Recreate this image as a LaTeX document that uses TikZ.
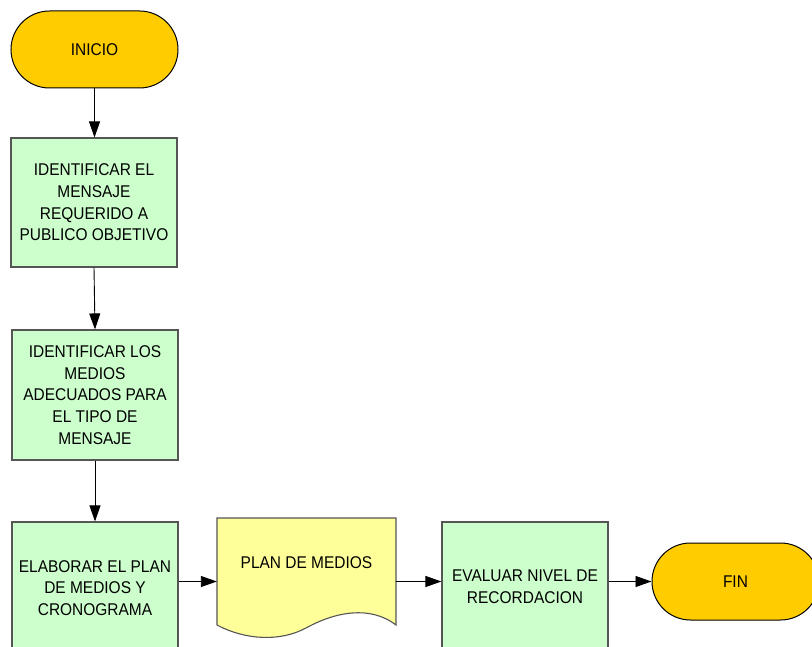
\documentclass[tikz,border=0pt]{standalone}
\usepackage{fontspec}
\setmainfont[FakeStretch=0.91]{Liberation Sans}
\usetikzlibrary{arrows.meta}
\definecolor{boxgreen}{HTML}{CCFFCC}
\definecolor{termyellow}{HTML}{FFCC00}
\definecolor{docyellow}{HTML}{FFFF99}
\definecolor{boxline}{HTML}{555555}
\tikzset{
  txt/.style={font=\fontsize{17}{21.7}\selectfont, align=center, inner sep=0pt},
  procbox/.style={txt, draw=boxline, fill=boxgreen, line width=1.1pt, minimum width=166pt},
  term/.style={txt, draw=black, fill=termyellow, line width=1pt, minimum width=167pt, minimum height=77pt, rounded corners=38.5pt},
  arr/.style={draw=black, line width=0.9pt, -{Triangle[length=16pt,width=11pt]}},
}
\begin{document}
\begin{tikzpicture}[x=1pt,y=-1pt]
\useasboundingbox (0,0) rectangle (812,647);
\clip (0,0) rectangle (812,647);
\node[term] (inicio) at (94.5,49.5) {INICIO};
\node[procbox, minimum height=129pt] (b1) at (94,202.5) {IDENTIFICAR EL\\MENSAJE\\REQUERIDO A\\PUBLICO OBJETIVO};
\node[procbox, minimum height=130pt] (b2) at (95,395) {IDENTIFICAR LOS\\MEDIOS\\ADECUADOS PARA\\EL TIPO DE\\MENSAJE};
\node[procbox, minimum height=132pt] (b3) at (95,588) {ELABORAR EL PLAN\\DE MEDIOS Y\\CRONOGRAMA};
\draw[draw=boxline, fill=docyellow, line width=1.1pt]
  (217,518) -- (396,518) -- (396,625)
  .. controls (370,605) and (335,612) .. (306,628)
  .. controls (280,642) and (245,640) .. (217,625) -- cycle;
\node[minimum width=179pt, minimum height=0pt, inner sep=0pt] (doc) at (306.5,581.5) {};
\node[txt] (doctext) at (306.5,563) {PLAN DE MEDIOS};
\node[procbox, minimum height=130pt] (b4) at (525,587) {EVALUAR NIVEL DE\\RECORDACION};
\node[term] (fin) at (735.5,581.5) {FIN};
\draw[arr] (inicio.south) -- (inicio.south |- b1.north);
\draw[arr] (b1.south) -- (b2.north);
\draw[arr] (b2.south) -- (b3.north);
\draw[arr] ([yshift=6.5pt]b3.east) -- (doc.west);
\draw[arr] (doc.east) -- ([yshift=5.5pt]b4.west);
\draw[arr] ([yshift=5.5pt]b4.east) -- (fin.west);
\end{tikzpicture}
\end{document}
